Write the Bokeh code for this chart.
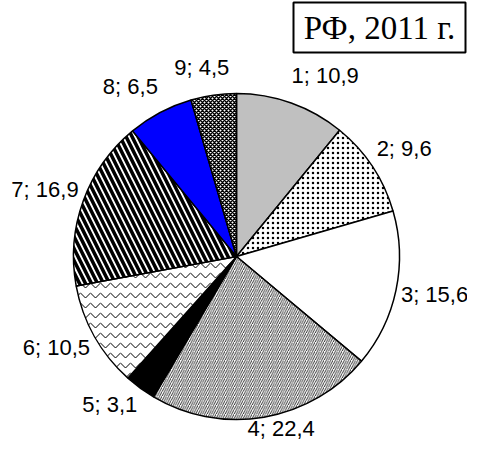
import numpy as np
from bokeh.plotting import figure
from bokeh.models import Range1d, ColumnDataSource, BoxAnnotation, Label
from bokeh.core.properties import value
from bokeh.embed import file_html
from bokeh.resources import INLINE

# ---- data ----
categories = ["1", "2", "3", "4", "5", "6", "7", "8", "9"]
shares = [10.9, 9.6, 15.6, 22.4, 3.1, 10.5, 16.9, 6.5, 4.5]
title_text = "РФ, 2011 г."

# ---- styles ----
fills = ["#C0C0C0", "white", "white", "white", "black", "white", "white", "#0000FF", "white"]
hatches = [" ", "dot", " ", "right_diagonal_line", " ", "horizontal_wave",
           "left_diagonal_line", " ", "diagonal_cross"]
hatch_scales = [6, 5, 6, 4.5, 6, 10, 12, 6, 4]
hatch_weights = [1, 0.6, 1, 0.8, 1, 1, 3.5, 1, 1.5]

R = 163
vals = np.array(shares, dtype=float)
frac = vals / vals.sum()
cum = np.concatenate([[0], np.cumsum(frac)])
theta_a = cum[:-1] * 2 * np.pi   # clockwise from top
theta_b = cum[1:] * 2 * np.pi
start = np.pi / 2 - theta_b
end = np.pi / 2 - theta_a

src = ColumnDataSource(dict(start=start, end=end, fill=fills, hatch=hatches,
                            hs=hatch_scales, hw=hatch_weights))

YMIN, YMAX = -184, 256
p = figure(width=467, height=440, output_backend="svg", toolbar_location=None,
           x_range=Range1d(-236, 231), y_range=Range1d(YMIN, YMAX),
           min_border=0, min_border_left=0, min_border_right=0,
           min_border_top=0, min_border_bottom=0)
p.axis.visible = False
p.grid.visible = False
p.outline_line_color = None
p.background_fill_color = "white"

p.wedge(x=0, y=0, radius=R, start_angle="start", end_angle="end", direction="anticlock",
        source=src, fill_color="fill", line_color="black", line_width=1.5,
        hatch_pattern="hatch", hatch_scale="hs", hatch_weight="hw", hatch_color="black")

# labels
font_px = 22
cw = {c: 0.556 for c in "0123456789"}
cw.update({";": 0.278, ",": 0.278, " ": 0.278})
texts = [f"{c}; {str(v).replace('.', ',')}" for c, v in zip(categories, shares)]
mid = (theta_a + theta_b) / 2
s, c = np.sin(mid), np.cos(mid)
rx = 168
ry = 175 + 5 * np.sign(c)
widths = np.array([sum(cw.get(ch, 0.556) for ch in t) * font_px for t in texts])
half_h = 11
lx = rx * s + widths / 2 * np.clip(s / 0.35, -1, 1)
ly = ry * c + half_h * np.clip(c / 0.7, -1, 1)
ly = np.clip(ly, YMIN + 12, YMAX - 12)
lsrc = ColumnDataSource(dict(x=lx, y=ly, t=texts))
p.text(x="x", y="y", text="t", source=lsrc, text_font=value("Liberation Sans"),
       text_font_size=f"{font_px}px", text_align="center", text_baseline="middle",
       text_color="black")

box = BoxAnnotation(left=57, right=229, top=254, bottom=204, fill_alpha=0,
                    line_color="black", line_width=2, line_alpha=1)
p.add_layout(box)
p.add_layout(Label(x=143, y=229, text=title_text, text_font="Liberation Serif",
                   text_font_size="33px", text_align="center", text_baseline="middle",
                   text_color="black"))

open("out.html", "w").write(file_html(p, INLINE))
